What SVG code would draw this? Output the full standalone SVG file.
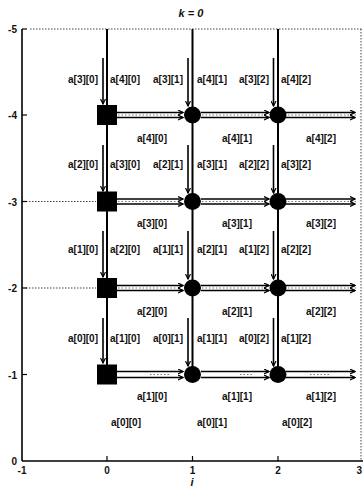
<svg xmlns="http://www.w3.org/2000/svg" width="363" height="487" viewBox="0 0 363 487">
<style>
.lbl{font-family:"Liberation Sans",Arial,sans-serif;font-size:10px;font-weight:bold;text-anchor:middle;fill:#111}
.ax{font-family:"Liberation Sans",Arial,sans-serif;font-size:10px;font-weight:bold;fill:#111}
.it{font-family:"Liberation Sans",Arial,sans-serif;font-style:italic;font-weight:bold;fill:#111}
.grid{stroke:#444;stroke-width:1;stroke-dasharray:1.5 1.5;fill:none}
.main{stroke:#000;stroke-width:2;fill:none}
.par{stroke:#000;stroke-width:1.6;fill:none}
.hl{stroke:#000;stroke-width:1.4;fill:none}
.fill{stroke:#777;stroke-width:1;stroke-dasharray:1.5 2;fill:none}
</style>
<defs>
<marker id="ah" markerUnits="userSpaceOnUse" markerWidth="6" markerHeight="6" refX="5" refY="3" orient="auto">
<path d="M0,0.5 L5,3 L0,5.5" fill="none" stroke="#000" stroke-width="1.2"/>
</marker>
</defs>
<rect width="363" height="487" fill="#fff"/>
<g id="axes">
<line class="grid" x1="30" y1="29" x2="362" y2="29"/>
<line class="grid" x1="361" y1="29" x2="361" y2="461"/>
<line class="grid" x1="26" y1="201.5" x2="96" y2="201.5"/>
<line class="grid" x1="26" y1="288" x2="96" y2="288"/>
<line x1="22" y1="29" x2="22" y2="461" stroke="#000" stroke-width="1.6"/>
<line x1="22" y1="461" x2="363" y2="461" stroke="#000" stroke-width="1.6"/>
<g stroke="#000" stroke-width="1.2">
<line x1="22" y1="29" x2="27" y2="29"/><line x1="22" y1="115" x2="27" y2="115"/>
<line x1="22" y1="201.5" x2="27" y2="201.5"/><line x1="22" y1="288" x2="27" y2="288"/>
<line x1="22" y1="374.5" x2="27" y2="374.5"/>
<line x1="107" y1="461" x2="107" y2="456"/><line x1="192.5" y1="461" x2="192.5" y2="456"/>
<line x1="278" y1="461" x2="278" y2="456"/>
</g>
<text class="ax" x="17" y="33" text-anchor="end">-5</text>
<text class="ax" x="17" y="119" text-anchor="end">-4</text>
<text class="ax" x="17" y="205.5" text-anchor="end">-3</text>
<text class="ax" x="17" y="292" text-anchor="end">-2</text>
<text class="ax" x="17" y="378.5" text-anchor="end">-1</text>
<text class="ax" x="17" y="465" text-anchor="end">0</text>
<text class="ax" x="22" y="474" text-anchor="middle">-1</text>
<text class="ax" x="107" y="474" text-anchor="middle">0</text>
<text class="ax" x="192.5" y="474" text-anchor="middle">1</text>
<text class="ax" x="278" y="474" text-anchor="middle">2</text>
<text class="ax" x="362" y="474" text-anchor="end">3</text>
<text class="it" x="192" y="486" font-size="11" text-anchor="middle">i</text>
<text class="it" x="191" y="17" font-size="11" text-anchor="middle">k = 0</text>
</g>
<g id="connectors">
<line class="main" x1="107" y1="29" x2="107" y2="374.5"/>
<line class="main" x1="192.5" y1="29" x2="192.5" y2="374.5"/>
<line class="main" x1="278" y1="29" x2="278" y2="374.5"/>
<g class="par" marker-end="url(#ah)">
<line x1="103" y1="58" x2="103" y2="104"/><line x1="103" y1="145" x2="103" y2="191"/>
<line x1="103" y1="231" x2="103" y2="277"/><line x1="103" y1="318" x2="103" y2="363"/>
<line x1="188" y1="58" x2="188" y2="106"/><line x1="188" y1="145" x2="188" y2="193"/>
<line x1="188" y1="231" x2="188" y2="279"/><line x1="188" y1="318" x2="188" y2="366"/>
<line x1="273.5" y1="58" x2="273.5" y2="106"/><line x1="273.5" y1="145" x2="273.5" y2="193"/>
<line x1="273.5" y1="231" x2="273.5" y2="279"/><line x1="273.5" y1="318" x2="273.5" y2="366"/>
</g>
<g class="fill">
<line x1="118" y1="115" x2="180" y2="115"/><line x1="202" y1="115" x2="266" y2="115"/><line x1="288" y1="115" x2="358" y2="115"/>
<line x1="118" y1="201.5" x2="180" y2="201.5"/><line x1="202" y1="201.5" x2="266" y2="201.5"/><line x1="288" y1="201.5" x2="358" y2="201.5"/>
<line x1="118" y1="288" x2="180" y2="288"/><line x1="202" y1="288" x2="266" y2="288"/><line x1="288" y1="288" x2="358" y2="288"/>
<line x1="150" y1="374.5" x2="170" y2="374.5"/><line x1="240" y1="374.5" x2="252" y2="374.5"/><line x1="310" y1="374.5" x2="330" y2="374.5"/>
</g>
<g class="hl" marker-end="url(#ah)">
<line x1="117" y1="112.5" x2="183" y2="112.5"/><line x1="117" y1="117.5" x2="183" y2="117.5"/>
<line x1="201" y1="112.5" x2="269" y2="112.5"/><line x1="201" y1="117.5" x2="269" y2="117.5"/>
<line x1="286" y1="112.5" x2="355" y2="112.5"/><line x1="286" y1="117.5" x2="355" y2="117.5"/>
<line x1="117" y1="199" x2="183" y2="199"/><line x1="117" y1="204" x2="183" y2="204"/>
<line x1="201" y1="199" x2="269" y2="199"/><line x1="201" y1="204" x2="269" y2="204"/>
<line x1="286" y1="199" x2="355" y2="199"/><line x1="286" y1="204" x2="355" y2="204"/>
<line x1="117" y1="285.5" x2="183" y2="285.5"/><line x1="117" y1="290.5" x2="183" y2="290.5"/>
<line x1="201" y1="285.5" x2="269" y2="285.5"/><line x1="201" y1="290.5" x2="269" y2="290.5"/>
<line x1="286" y1="285.5" x2="355" y2="285.5"/><line x1="286" y1="290.5" x2="355" y2="290.5"/>
<line x1="117" y1="371.5" x2="183" y2="371.5"/><line x1="117" y1="377.5" x2="183" y2="377.5"/>
<line x1="201" y1="371.5" x2="269" y2="371.5"/><line x1="201" y1="377.5" x2="269" y2="377.5"/>
<line x1="286" y1="371.5" x2="355" y2="371.5"/><line x1="286" y1="377.5" x2="355" y2="377.5"/>
</g>
</g>
<g id="n00"><rect x="97" y="105" width="20" height="20" fill="#000"/></g>
<g id="n10"><rect x="97" y="191.5" width="20" height="20" fill="#000"/></g>
<g id="n20"><rect x="97" y="278" width="20" height="20" fill="#000"/></g>
<g id="n30"><rect x="97" y="364.5" width="20" height="20" fill="#000"/></g>
<g id="n01"><circle cx="192.5" cy="115" r="8.5" fill="#000"/></g>
<g id="n11"><circle cx="192.5" cy="201.5" r="8.5" fill="#000"/></g>
<g id="n21"><circle cx="192.5" cy="288" r="8.5" fill="#000"/></g>
<g id="n31"><circle cx="192.5" cy="374.5" r="8.5" fill="#000"/></g>
<g id="n02"><circle cx="278" cy="115" r="8.5" fill="#000"/></g>
<g id="n12"><circle cx="278" cy="201.5" r="8.5" fill="#000"/></g>
<g id="n22"><circle cx="278" cy="288" r="8.5" fill="#000"/></g>
<g id="n32"><circle cx="278" cy="374.5" r="8.5" fill="#000"/></g>
<g id="labels">
<text class="lbl" x="83" y="83">a[3][0]</text><text class="lbl" x="125" y="83">a[4][0]</text>
<text class="lbl" x="168" y="83">a[3][1]</text><text class="lbl" x="212" y="83">a[4][1]</text>
<text class="lbl" x="254" y="83">a[3][2]</text><text class="lbl" x="296" y="83">a[4][2]</text>
<text class="lbl" x="152" y="142">a[4][0]</text><text class="lbl" x="237" y="142">a[4][1]</text><text class="lbl" x="321" y="142">a[4][2]</text>
<text class="lbl" x="83" y="168">a[2][0]</text><text class="lbl" x="125" y="168">a[3][0]</text>
<text class="lbl" x="168" y="168">a[2][1]</text><text class="lbl" x="212" y="168">a[3][1]</text>
<text class="lbl" x="254" y="168">a[2][2]</text><text class="lbl" x="296" y="168">a[3][2]</text>
<text class="lbl" x="152" y="227">a[3][0]</text><text class="lbl" x="237" y="227">a[3][1]</text><text class="lbl" x="321" y="227">a[3][2]</text>
<text class="lbl" x="83" y="253">a[1][0]</text><text class="lbl" x="125" y="253">a[2][0]</text>
<text class="lbl" x="168" y="253">a[1][1]</text><text class="lbl" x="212" y="253">a[2][1]</text>
<text class="lbl" x="254" y="253">a[1][2]</text><text class="lbl" x="296" y="253">a[2][2]</text>
<text class="lbl" x="152" y="315">a[2][0]</text><text class="lbl" x="237" y="315">a[2][1]</text><text class="lbl" x="321" y="315">a[2][2]</text>
<text class="lbl" x="83" y="342">a[0][0]</text><text class="lbl" x="125" y="342">a[1][0]</text>
<text class="lbl" x="168" y="342">a[0][1]</text><text class="lbl" x="212" y="342">a[1][1]</text>
<text class="lbl" x="254" y="342">a[0][2]</text><text class="lbl" x="296" y="342">a[1][2]</text>
<text class="lbl" x="152" y="400">a[1][0]</text><text class="lbl" x="237" y="400">a[1][1]</text><text class="lbl" x="321" y="400">a[1][2]</text>
<text class="lbl" x="126" y="426">a[0][0]</text><text class="lbl" x="212" y="426">a[0][1]</text><text class="lbl" x="297" y="426">a[0][2]</text>
</g>
</svg>
